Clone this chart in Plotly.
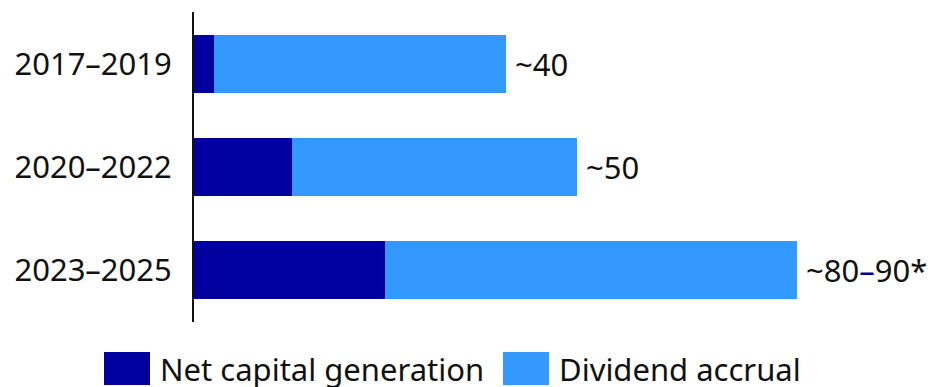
import plotly.graph_objects as go

# Periods and stacked components (billions)
periods = ["2017\u20132019", "2020\u20132022", "2023\u20132025"]
net_capital = [2.6, 12.8, 24.9]
dividend_accrual = [38.0, 37.1, 53.6]
total_labels = ["~40", "~50", "~80<span style='color:#00009f'>\u2013</span>90*"]

series_names = ["Net capital generation", "Dividend accrual"]
series_colors = ["#00009f", "#3399ff"]

FONT = "Noto Sans"
TEXT_SIZE = 31
TEXT_COLOR = "#111111"

W, H = 931, 387
ML, MR, MT, MB = 194, 0, 12, 65

fig = go.Figure()
for name, vals, col in zip(series_names, [net_capital, dividend_accrual], series_colors):
    fig.add_trace(go.Bar(
        y=periods, x=vals, name=name, orientation="h",
        marker=dict(color=col, line=dict(width=0)),
        width=0.56, showlegend=False,
    ))

# Totals written to the right of each stacked bar
for p, a, b, lab in zip(periods, net_capital, dividend_accrual, total_labels):
    fig.add_annotation(
        x=a + b, y=p, xref="x", yref="y", text=lab, showarrow=False,
        xanchor="left", yanchor="middle", xshift=7,
        font=dict(family=FONT, size=TEXT_SIZE, color=TEXT_COLOR),
    )

fig.update_layout(
    width=W, height=H,
    margin=dict(l=ML, r=MR, t=MT, b=MB),
    barmode="stack",
    plot_bgcolor="white", paper_bgcolor="white",
    xaxis=dict(range=[0, 96], visible=False, fixedrange=True),
    yaxis=dict(
        autorange="reversed", showline=True, linecolor=TEXT_COLOR, linewidth=2,
        ticks="", showgrid=False, zeroline=False, ticklabelstandoff=14,
        tickfont=dict(family=FONT, size=TEXT_SIZE, color=TEXT_COLOR),
    ),
    font=dict(family=FONT),
)

# Legend: large swatches with labels beneath the plot area
pw, ph = W - ML - MR, H - MT - MB
def px_to_paper(px, py):
    return (px - ML) / pw, (H - MB - py) / ph

for name, col, sx in zip(series_names, series_colors, [104, 503]):
    x0, y0 = px_to_paper(sx, 385)
    x1, y1 = px_to_paper(sx + 46, 352)
    fig.add_shape(type="rect", xref="paper", yref="paper",
                  x0=x0, x1=x1, y0=y0, y1=y1,
                  line=dict(width=0), fillcolor=col)
    tx, ty = px_to_paper(sx + 54, 368.5)
    fig.add_annotation(x=tx, y=ty, xref="paper", yref="paper", text=name,
                       showarrow=False, xanchor="left", yanchor="middle",
                       font=dict(family=FONT, size=TEXT_SIZE, color=TEXT_COLOR))

fig.write_html("out.html")
